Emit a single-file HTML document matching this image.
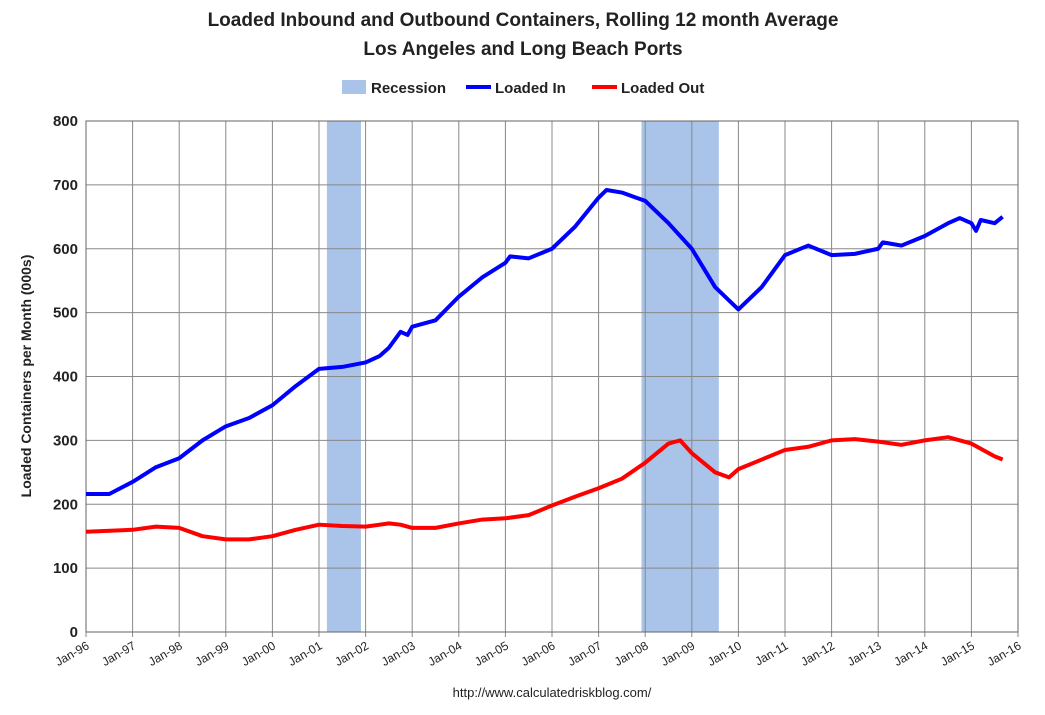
<!DOCTYPE html>
<html><head><meta charset="utf-8"><style>
body{margin:0;background:#fff;font-family:"Liberation Sans",sans-serif}
</style></head><body>
<svg id="c" width="1045" height="710" xmlns="http://www.w3.org/2000/svg" font-family="Liberation Sans, sans-serif">
<text x="523" y="26" text-anchor="middle" font-size="19" font-weight="bold" fill="#222">Loaded Inbound and Outbound Containers, Rolling 12 month Average</text>
<text x="523" y="55" text-anchor="middle" font-size="19" font-weight="bold" fill="#222">Los Angeles and Long Beach Ports</text>
<g font-size="15" font-weight="bold" fill="#222">
<rect x="342" y="80" width="24" height="14" fill="#a9c4e8"/>
<text x="371" y="93">Recession</text>
<line x1="466" y1="87" x2="491" y2="87" stroke="#0000ff" stroke-width="4"/>
<text x="495" y="93">Loaded In</text>
<line x1="592" y1="87" x2="617" y2="87" stroke="#ff0000" stroke-width="4"/>
<text x="621" y="93">Loaded Out</text>
</g>
<text transform="translate(31,376) rotate(-90)" text-anchor="middle" font-size="14" font-weight="bold" fill="#222">Loaded Containers per Month (000s)</text>
<text x="552" y="697" text-anchor="middle" font-size="13" fill="#222">http://www.calculatedriskblog.com/</text>
<g id="plot"></g>
</svg>
<script>
const yTicks=[0,100,200,300,400,500,600,700,800];
const xTickLabels=["Jan-96","Jan-97","Jan-98","Jan-99","Jan-00","Jan-01","Jan-02","Jan-03","Jan-04","Jan-05","Jan-06","Jan-07","Jan-08","Jan-09","Jan-10","Jan-11","Jan-12","Jan-13","Jan-14","Jan-15","Jan-16"];
const recessions=[[2001.17,2001.9],[2007.92,2009.58]];
const inDates=[1996,1996.5,1997,1997.5,1998,1998.5,1999,1999.5,2000,2000.5,2001,2001.5,2002,2002.3,2002.5,2002.75,2002.9,2003,2003.5,2004,2004.5,2005,2005.1,2005.5,2006,2006.5,2007,2007.17,2007.5,2008,2008.5,2009,2009.5,2010,2010.5,2011,2011.5,2012,2012.5,2013,2013.1,2013.5,2014,2014.5,2014.75,2015,2015.1,2015.2,2015.5,2015.67];
const inVals=[216,216,235,258,272,300,322,335,355,385,412,415,422,432,445,470,465,478,488,525,555,578,588,585,600,635,680,692,688,675,640,600,540,505,540,590,605,590,592,600,610,605,620,640,648,640,628,645,640,650];
const outDates=[1996,1997,1997.5,1998,1998.5,1999,1999.5,2000,2000.5,2001,2001.5,2002,2002.5,2002.75,2003,2003.5,2004,2004.5,2005,2005.5,2006,2006.5,2007,2007.5,2008,2008.5,2008.75,2009,2009.5,2009.8,2010,2010.5,2011,2011.5,2012,2012.5,2013,2013.5,2014,2014.5,2015,2015.5,2015.67];
const outVals=[157,160,165,163,150,145,145,150,160,168,166,165,170,168,163,163,170,176,178,183,198,212,225,240,265,295,300,280,250,242,255,270,285,290,300,302,298,293,300,305,295,275,270];
const L=86,R=1018,T=121,B=632;
const xs=d=>L+(d-1996)/20*(R-L);
const ys=v=>B-v/800*(B-T);
const g=document.getElementById('plot');
const NS="http://www.w3.org/2000/svg";
function el(t,a){const e=document.createElementNS(NS,t);for(const k in a)e.setAttribute(k,a[k]);g.appendChild(e);return e;}
recessions.forEach(r=>{const e=el('rect',{x:xs(r[0]),y:T,width:xs(r[1])-xs(r[0]),height:B-T,fill:'#a9c4e8'});

});
yTicks.forEach(v=>{const l=el('line',{x1:L,x2:R,y1:ys(v),y2:ys(v),stroke:'#888','stroke-width':1});


const t=el('text',{x:L-8,y:ys(v)+5,'text-anchor':'end','font-size':15,'font-weight':'bold',fill:'#222'});t.textContent=v;

});
xTickLabels.forEach((s,i)=>{const x=xs(1996+i);const l=el('line',{x1:x,x2:x,y1:T,y2:B+5,stroke:'#888','stroke-width':1});


const t=el('text',{transform:`translate(${x+4},${B+16}) rotate(-30)`,'text-anchor':'end','font-size':12,fill:'#222'});t.textContent=s;

});
const fr=el('rect',{x:L,y:T,width:R-L,height:B-T,fill:'none',stroke:'#666'});


function line(d,v,c,n){const p=el('polyline',{points:d.map((x,i)=>xs(x)+','+ys(v[i])).join(' '),fill:'none',stroke:c,'stroke-width':4,'stroke-linejoin':'round'});

}
line(inDates,inVals,'#0000ff','loaded-in-line');
line(outDates,outVals,'#ff0000','loaded-out-line');
</script>
</body></html>
